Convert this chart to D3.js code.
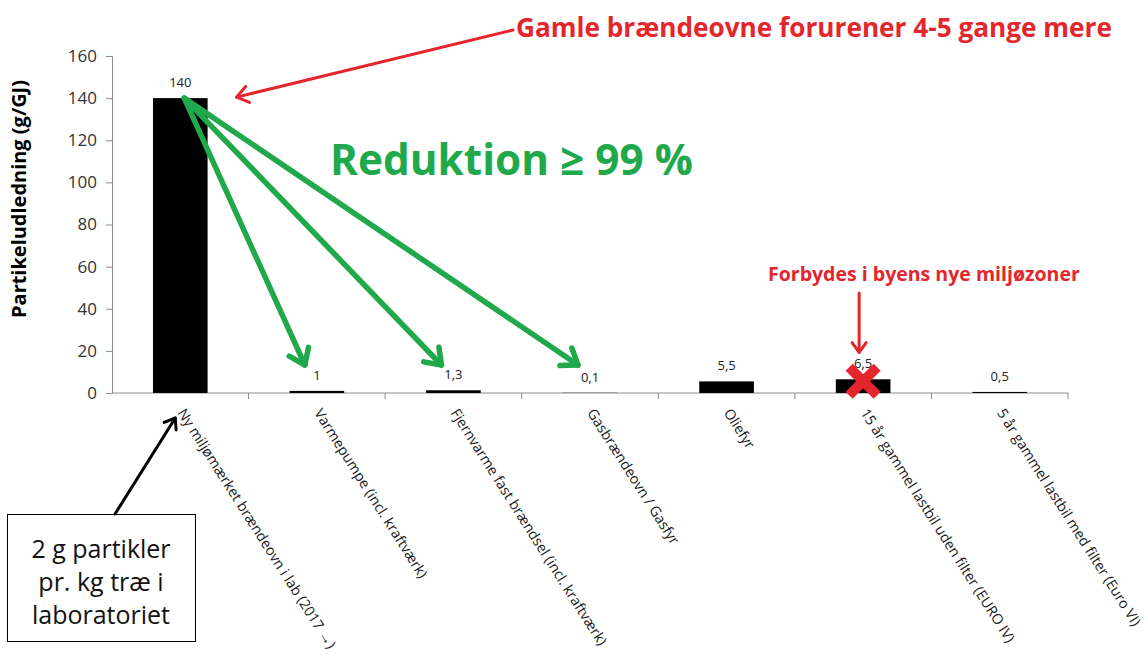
<html>
<head>
  <script src="https://d3js.org/d3.v7.min.js"></script>
  <style>
    body {
      background-color: white;
      margin: 0;
      padding: 0;
      overflow: hidden;
    }
    svg {
      display: block;
      font-family: "Open Sans", "Liberation Sans", sans-serif;
    }
  </style>
</head>
<body>
  <svg width="1148" height="661"></svg>

  <script>
    const categories = [
      "Ny miljømærket brændeovn i lab (2017 →)",
      "Varmepumpe (incl. kraftværk)",
      "Fjernvarme fast brændsel (incl. kraftværk)",
      "Gasbrændeovn / Gasfyr",
      "Oliefyr",
      "15 år gammel lastbil uden filter (EURO IV)",
      "5 år gammel lastbil med filter (Euro VI)"
    ];
    const values = [140, 1, 1.3, 0.1, 5.5, 6.5, 0.5];
    const valueLabels = ["140", "1", "1,3", "0,1", "5,5", "6,5", "0,5"];
    const yTicks = [0, 20, 40, 60, 80, 100, 120, 140, 160];

    const red = "#e4262c",
          green = "#20a94b";

    const svg = d3.select("svg");

    const x = d3.scaleBand()
        .domain(categories)
        .range([112, 1068])
        .padding(0);

    const y = d3.scaleLinear()
        .domain([0, 160])
        .range([393, 56]);

    const xc = d => x(d) + x.bandwidth() / 2;

    // fit a text element to a target width by scaling its font size
    function fit(sel, w) {
      const fs = parseFloat(sel.attr("font-size"));
      const len = sel.node().getComputedTextLength();
      sel.attr("font-size", fs * w / len);
      return sel;
    }

    // arrow: line plus open chevron head
    function arrow(x1, y1, x2, y2, color, width, head) {
      const g = svg.append("g")
          .attr("stroke", color)
          .attr("stroke-width", width)
          .attr("fill", "none")
          .attr("stroke-linecap", "round")
          .attr("stroke-linejoin", "round");
      g.append("line")
          .attr("x1", x1).attr("y1", y1)
          .attr("x2", x2).attr("y2", y2);
      const a = Math.atan2(y2 - y1, x2 - x1);
      const s = Math.PI / 5;
      g.append("polyline")
          .attr("points", [
            [x2 - head * Math.cos(a - s), y2 - head * Math.sin(a - s)],
            [x2, y2],
            [x2 - head * Math.cos(a + s), y2 - head * Math.sin(a + s)]
          ].map(p => p.join(",")).join(" "));
    }

    // Y axis
    const yAxis = svg.append("g")
        .attr("transform", "translate(112,0)")
        .call(d3.axisLeft(y).tickValues(yTicks).tickSize(6).tickPadding(9));
    yAxis.select(".domain").attr("stroke", "#8c8c8c");
    yAxis.selectAll(".tick line").attr("stroke", "#8c8c8c");
    yAxis.selectAll(".tick text")
        .attr("font-size", 17)
        .attr("font-family", "Open Sans")
        .attr("fill", "#333");

    // X axis line and boundary ticks
    svg.append("line")
        .attr("x1", x.range()[0]).attr("x2", x.range()[1])
        .attr("y1", y(0)).attr("y2", y(0))
        .attr("stroke", "#8c8c8c");
    svg.selectAll(".xtick")
        .data(categories.slice(1).map(c => x(c)).concat([x.range()[1]]))
        .enter().append("line")
        .attr("class", "xtick")
        .attr("x1", d => d).attr("x2", d => d)
        .attr("y1", y(0)).attr("y2", y(0) + 6)
        .attr("stroke", "#8c8c8c");

    // Bars
    svg.selectAll(".bar")
        .data(values)
        .enter().append("rect")
        .attr("class", "bar")
        .attr("x", (d, i) => x(categories[i]) + x.bandwidth() * 0.3)
        .attr("width", x.bandwidth() * 0.4)
        .attr("y", d => y(d))
        .attr("height", d => Math.max(y(0) - y(d), 0))
        .attr("fill", "black");

    // Value labels
    svg.selectAll(".vlabel")
        .data(values)
        .enter().append("text")
        .attr("class", "vlabel")
        .attr("x", (d, i) => xc(categories[i]))
        .attr("y", d => y(d) - 11)
        .attr("text-anchor", "middle")
        .attr("font-size", 13)
        .attr("fill", "#222")
        .text((d, i) => valueLabels[i]);

    // Rotated category labels
    svg.selectAll(".xlabel")
        .data(categories)
        .enter().append("text")
        .attr("class", "xlabel")
        .attr("transform", d => "translate(" + (xc(d) + 1) + "," + (y(0) + 17) + ") rotate(57.5)")
        .attr("dy", "0.35em")
        .attr("font-size", 14.3)
        .attr("fill", "#1a1a1a")
        .text(d => d);

    // Y axis title
    fit(svg.append("text")
        .attr("transform", "translate(26," + 199 + ") rotate(-90)")
        .attr("text-anchor", "middle")
        .attr("font-weight", "bold")
        .attr("font-size", 16)
        .text("Partikeludledning (g/GJ)"), 238);

    // Red title and arrow to old stove level
    fit(svg.append("text")
        .attr("x", 516).attr("y", 37)
        .attr("font-weight", "bold")
        .attr("font-size", 24)
        .attr("fill", red)
        .text("Gamle brændeovne forurener 4-5 gange mere"), 596);
    arrow(513, 30, x(categories[0]) + x.bandwidth() * 0.7 + 29, y(values[0]) - 1, red, 3, 14);

    // Green reduction text and arrows
    fit(svg.append("text")
        .attr("x", 330).attr("y", 175)
        .attr("font-weight", "bold")
        .attr("font-size", 40)
        .attr("fill", green)
        .text("Reduktion ≥ 99 %"), 363);
    [1, 2, 3].forEach(i => {
      arrow(xc(categories[0]) + 4, y(values[0]),
            xc(categories[i]) - 12, y(0) - 28, green, 5.5, 18);
    });

    // Red ban note
    fit(svg.append("text")
        .attr("x", 768).attr("y", 281)
        .attr("font-weight", "bold")
        .attr("font-size", 22)
        .attr("fill", red)
        .text("Forbydes i byens nye miljøzoner"), 312);
    const cx5 = xc(categories[5]);
    arrow(cx5 - 4, 293, cx5 - 4, y(values[5]) - 27, red, 3, 12);

    // Red cross on truck bar
    const cy5 = y(values[5]) + 2;
    [[-14, -14, 14, 14], [-14, 14, 14, -14]].forEach(p => {
      svg.append("line")
          .attr("x1", cx5 + p[0]).attr("y1", cy5 + p[1])
          .attr("x2", cx5 + p[2]).attr("y2", cy5 + p[3])
          .attr("stroke", red)
          .attr("stroke-width", 10);
    });

    // Box with note and arrow to the first category
    svg.append("rect")
        .attr("x", 7.5).attr("y", 514.5)
        .attr("width", 188).attr("height", 127)
        .attr("fill", "white")
        .attr("stroke", "black")
        .attr("stroke-width", 1);
    const boxLines = ["2 g partikler", "pr. kg træ i", "laboratoriet"];
    svg.selectAll(".boxline")
        .data(boxLines)
        .enter().append("text")
        .attr("class", "boxline")
        .attr("x", 101)
        .attr("y", (d, i) => 558 + i * 33)
        .attr("text-anchor", "middle")
        .attr("font-size", 25)
        .attr("fill", "#111")
        .text(d => d);
    arrow(115, 514, xc(categories[0]) - 5, y(0) + 25, "black", 3, 12);
  </script>
</body>
</html>
